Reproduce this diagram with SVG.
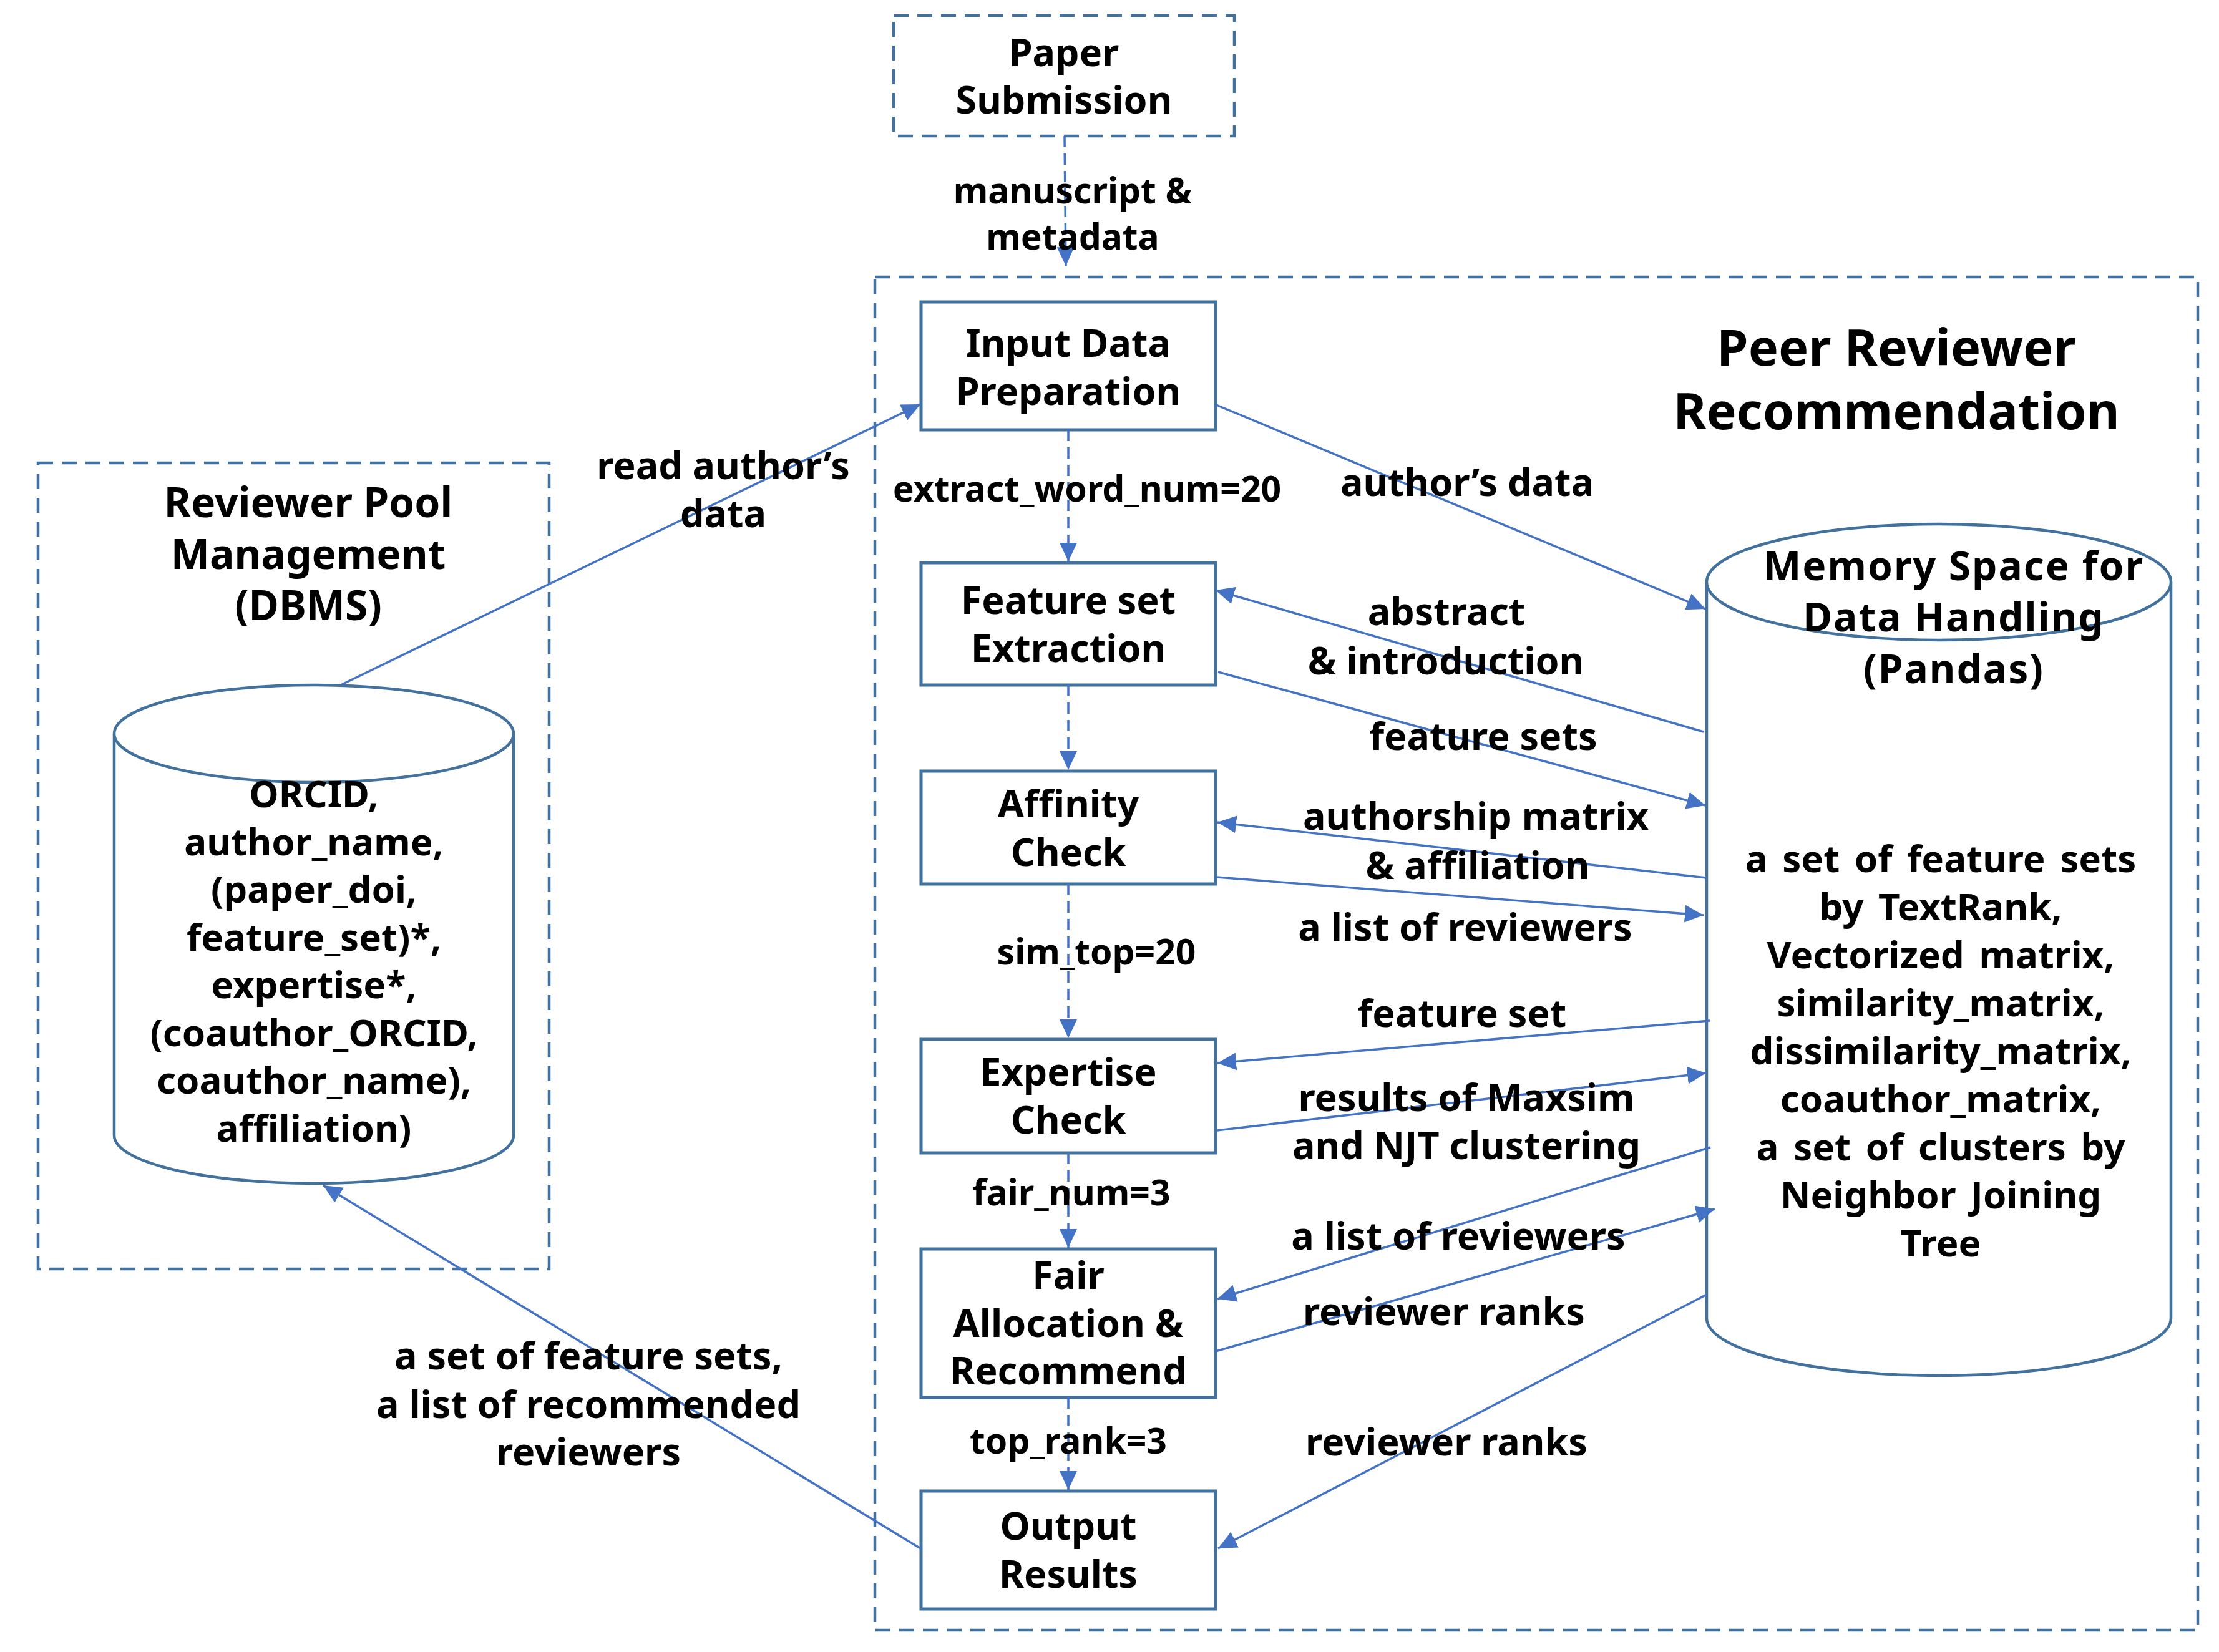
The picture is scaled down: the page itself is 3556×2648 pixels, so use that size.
<svg xmlns="http://www.w3.org/2000/svg" width="3556" height="2648" viewBox="0 0 3556 2648">
<defs>
<style>
.cont{fill:none;stroke:#41719C;stroke-width:4.5;stroke-dasharray:24 14}
.box{fill:#fff;stroke:#41719C;stroke-width:5}
.cyl{fill:#fff;stroke:#41719C;stroke-width:4.5}
.ln{fill:none;stroke:#4472C4;stroke-width:3.5}
.dl{fill:none;stroke:#4472C4;stroke-width:3.5;stroke-dasharray:18 10}
text{font-family:"Noto Sans","DejaVu Sans",sans-serif;font-weight:bold;fill:#000;text-anchor:middle}
.lb{font-size:61px}
.el{font-size:61px}
.pl{font-size:57px}
.ct{font-size:60px}
.t1{font-size:66px}
.t2{font-size:64px;letter-spacing:2px}
.t3{font-size:81px}
</style>
<marker id="ah" markerUnits="userSpaceOnUse" markerWidth="32" markerHeight="30" refX="30" refY="14" orient="auto">
<path d="M0,0 L30,14 L0,28 z" fill="#4472C4"/>
</marker>
</defs>
<rect width="3556" height="2648" fill="#fff"/>

<g id="peer-reviewer-recommendation">
<rect class="cont" x="1402" y="444" width="2120" height="2169"/>
<text class="t3" x="3039" y="586">Peer Reviewer</text>
<text class="t3" x="3039" y="688">Recommendation</text>
</g>

<g id="reviewer-pool-management">
<rect class="cont" x="61" y="742" width="819" height="1292"/>
<text class="t1" x="494" y="829">Reviewer Pool</text>
<text class="t1" x="494" y="912">Management</text>
<text class="t1" x="494" y="994">(DBMS)</text>
</g>

<g id="reviewer-db">
<path class="cyl" d="M183,1176 L183,1820 A320,77 0 0 0 823,1820 L823,1176 A320,78 0 0 0 183,1176 Z"/>
<path class="cyl" d="M183,1176 A320,78 0 0 0 823,1176"/>
<text class="ct" x="503" y="1294">ORCID,</text>
<text class="ct" x="503" y="1371">author_name,</text>
<text class="ct" x="503" y="1447">(paper_doi,</text>
<text class="ct" x="503" y="1524">feature_set)*,</text>
<text class="ct" x="503" y="1600">expertise*,</text>
<text class="ct" x="503" y="1677">(coauthor_ORCID,</text>
<text class="ct" x="503" y="1753">coauthor_name),</text>
<text class="ct" x="503" y="1830">affiliation)</text>
</g>

<g id="memory-space">
<path class="cyl" d="M2735,933 L2735,2113 A372,92 0 0 0 3479,2113 L3479,933 A372,93 0 0 0 2735,933 Z"/>
<path class="cyl" d="M2735,933 A372,93 0 0 0 3479,933"/>
<text class="t2" x="3131" y="930">Memory Space for</text>
<text class="t2" x="3131" y="1012">Data Handling</text>
<text class="t2" x="3131" y="1095">(Pandas)</text>
<text class="ct" x="3110" y="1398" word-spacing="8">a set of feature sets</text>
<text class="ct" x="3110" y="1475" word-spacing="8">by TextRank,</text>
<text class="ct" x="3110" y="1552" word-spacing="8">Vectorized matrix,</text>
<text class="ct" x="3110" y="1629">similarity_matrix,</text>
<text class="ct" x="3110" y="1706">dissimilarity_matrix,</text>
<text class="ct" x="3110" y="1783">coauthor_matrix,</text>
<text class="ct" x="3110" y="1860" word-spacing="8">a set of clusters by</text>
<text class="ct" x="3110" y="1937" word-spacing="8">Neighbor Joining</text>
<text class="ct" x="3110" y="2014">Tree</text>
</g>

<g id="paper-submission">
<rect class="cont" x="1432" y="25" width="546" height="193"/>
<text class="lb" x="1705" y="106">Paper</text>
<text class="lb" x="1705" y="182">Submission</text>
</g>

<g id="input-data-preparation">
<rect class="box" x="1476" y="484" width="472" height="205"/>
<text class="lb" x="1712" y="572">Input Data</text>
<text class="lb" x="1712" y="649">Preparation</text>
</g>

<g id="feature-set-extraction">
<rect class="box" x="1476" y="902" width="472" height="196"/>
<text class="lb" x="1712" y="984">Feature set</text>
<text class="lb" x="1712" y="1061">Extraction</text>
</g>

<g id="affinity-check">
<rect class="box" x="1476" y="1236" width="472" height="181"/>
<text class="lb" x="1712" y="1310">Affinity</text>
<text class="lb" x="1712" y="1388">Check</text>
</g>

<g id="expertise-check">
<rect class="box" x="1476" y="1666" width="472" height="182"/>
<text class="lb" x="1712" y="1740">Expertise</text>
<text class="lb" x="1712" y="1817">Check</text>
</g>

<g id="fair-allocation">
<rect class="box" x="1476" y="2002" width="472" height="238"/>
<text class="lb" x="1712" y="2066">Fair</text>
<text class="lb" x="1712" y="2143">Allocation &amp;</text>
<text class="lb" x="1712" y="2219">Recommend</text>
</g>

<g id="output-results">
<rect class="box" x="1476" y="2390" width="472" height="189"/>
<text class="lb" x="1712" y="2468">Output</text>
<text class="lb" x="1712" y="2545">Results</text>
</g>

<g id="connectors">
<path class="dl" d="M1706,218 L1708,426" marker-end="url(#ah)"/>
<path class="dl" d="M1712,689 L1712,900" marker-end="url(#ah)"/>
<path class="dl" d="M1712,1098 L1712,1234" marker-end="url(#ah)"/>
<path class="dl" d="M1712,1417 L1712,1664" marker-end="url(#ah)"/>
<path class="dl" d="M1712,1848 L1712,2000" marker-end="url(#ah)"/>
<path class="dl" d="M1712,2240 L1712,2388" marker-end="url(#ah)"/>

<path class="ln" d="M548,1097 L1475,648" marker-end="url(#ah)"/>
<path class="ln" d="M1949,649 L2733,976" marker-end="url(#ah)"/>
<path class="ln" d="M2730,1173 L1948,946" marker-end="url(#ah)"/>
<path class="ln" d="M1952,1077 L2733,1291" marker-end="url(#ah)"/>
<path class="ln" d="M2734,1407 L1951,1318" marker-end="url(#ah)"/>
<path class="ln" d="M1950,1406 L2730,1467" marker-end="url(#ah)"/>
<path class="ln" d="M2740,1636 L1951,1704" marker-end="url(#ah)"/>
<path class="ln" d="M1950,1812 L2734,1720" marker-end="url(#ah)"/>
<path class="ln" d="M2741,1839 L1951,2082" marker-end="url(#ah)"/>
<path class="ln" d="M1948,2166 L2748,1938" marker-end="url(#ah)"/>
<path class="ln" d="M2735,2075 L1952,2482" marker-end="url(#ah)"/>
<path class="ln" d="M1475,2482 L518,1900" marker-end="url(#ah)"/>

<text class="pl" x="1719" y="326">manuscript &amp;</text>
<text class="pl" x="1719" y="400">metadata</text>
<text class="el" x="1159" y="768">read author’s</text>
<text class="el" x="1159" y="845">data</text>
<text class="pl" x="1742" y="804">extract_word_num=20</text>
<text class="el" x="2351" y="795">author’s data</text>
<text class="el" x="2318" y="1002">abstract</text>
<text class="el" x="2317" y="1081">&amp; introduction</text>
<text class="el" x="2377" y="1202">feature sets</text>
<text class="el" x="2365" y="1330">authorship matrix</text>
<text class="el" x="2368" y="1409">&amp; affiliation</text>
<text class="el" x="2348" y="1508">a list of reviewers</text>
<text class="pl" x="1757" y="1546">sim_top=20</text>
<text class="el" x="2343" y="1646">feature set</text>
<text class="el" x="2350" y="1781">results of Maxsim</text>
<text class="el" x="2350" y="1858">and NJT clustering</text>
<text class="pl" x="1717" y="1932">fair_num=3</text>
<text class="el" x="2337" y="2003">a list of reviewers</text>
<text class="el" x="2314" y="2124">reviewer ranks</text>
<text class="pl" x="1712" y="2330">top_rank=3</text>
<text class="el" x="2318" y="2333">reviewer ranks</text>
<text class="el" x="943" y="2195">a set of feature sets,</text>
<text class="el" x="943" y="2273">a list of recommended</text>
<text class="el" x="943" y="2349">reviewers</text>
</g>
</svg>
